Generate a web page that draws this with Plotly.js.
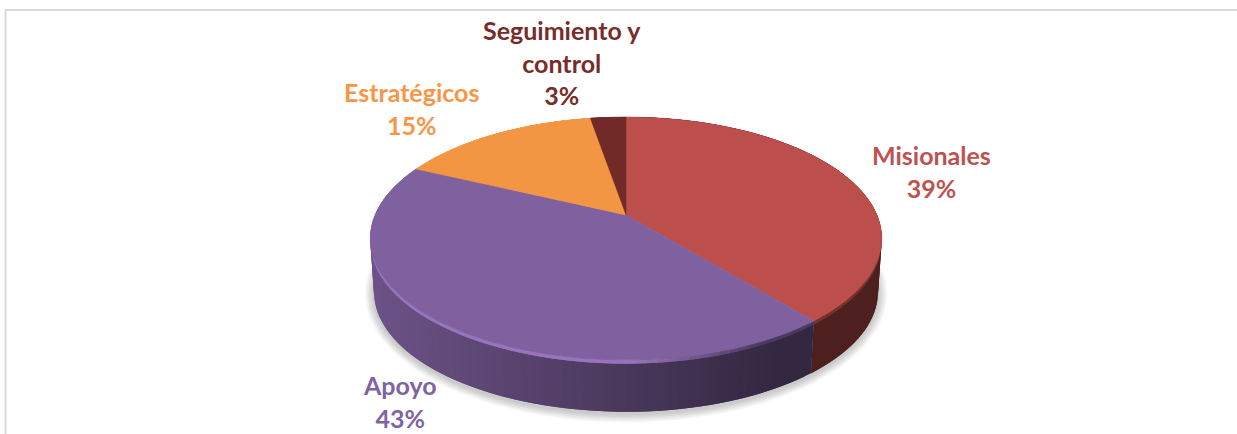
<!DOCTYPE html>
<html>
<head>
<meta charset="utf-8">
<script src="https://cdn.plot.ly/plotly-3.0.1.min.js"></script>
<style>html,body{margin:0;padding:0;background:#fff}#chart{width:1237px;height:434px}</style>
</head>
<body>
<div id="chart"></div>
<script>
var categories = ['Misionales', 'Apoyo', 'Estratégicos', 'Seguimiento y<br>control'];
var shares = [39.0, 43.0, 15.3, 2.7];
var topColors = [[188,79,76],[127,97,159],[243,150,68],[114,42,40]];
var labelColors = ['#BE5250', '#8064A2', '#F79646', '#772C2A'];
var labelX = [931, 400, 411, 562];
var labelY = [171, 401, 108, 62];

var CX = 626, CY = 215, A = 117, B = 251, K = 0.193, DEPTH = 54, LOWER = 0.985;

function proj(theta, scale, dy) {
  var X = Math.sin(theta), Y = Math.cos(theta), d = 1 + K * Y;
  return [CX + scale * B * X / d, CY - scale * A * Y / d + dy];
}
function rgb(c, f) {
  return 'rgb(' + c.map(function (v) { return Math.min(255, Math.round(v * f)); }).join(',') + ')';
}
function wallFactor(t) { return t < 0.78 ? 0.85 - 0.56 * t : 0.41; }
function bevelFactor(t) {
  if (t < 0.5) return 1.2;
  if (t < 0.75) return 1.2 - (t - 0.5) * 2.4;
  return 0.6;
}
var traces = [];
function poly(pts, fill, width) {
  traces.push({
    type: 'scatter', mode: 'lines', x: pts.map(function (p) { return p[0]; }), y: pts.map(function (p) { return p[1]; }),
    fill: 'toself', fillcolor: fill, line: { width: width || 0, color: fill }, hoverinfo: 'skip', showlegend: false
  });
}

// soft shadow below the disc
[9, 7.5, 6, 4.5, 3, 1.5].forEach(function (g) {
  var pts = [];
  for (var a = 0; a <= 360; a += 3) {
    var p = proj(a * Math.PI / 180, LOWER, DEPTH);
    var dx = p[0] - CX, dy = p[1] - 241 - DEPTH;
    pts.push([p[0] + g * dx / 251, p[1] + g * dy / 122 + 2]);
  }
  poly(pts, 'rgba(0,0,0,0.035)');
});

var total = shares.reduce(function (a, b) { return a + b; }, 0);
var start = 0, ranges = shares.map(function (v) {
  var r = [start, start + v / total * 2 * Math.PI]; start = r[1]; return r;
});

// side wall, split in narrow overlapping quads to make the shading
ranges.forEach(function (r, i) {
  var step = 2 * Math.PI / 180, n = Math.max(2, Math.ceil((r[1] - r[0]) / step));
  for (var j = 0; j < n; j++) {
    var a = r[0] + (r[1] - r[0]) * j / n;
    var b = Math.min(r[1], r[0] + (r[1] - r[0]) * (j + 2) / n);
    var pts = [], m = 4, k;
    for (k = 0; k <= m; k++) pts.push(proj(a + (b - a) * k / m, 1, 0));
    for (k = m; k >= 0; k--) pts.push(proj(a + (b - a) * k / m, LOWER, DEPTH));
    pts.push(pts[0]);
    var mid = proj(a + (b - a) / 2, 1, 0);
    var t = (mid[0] - (CX - 257)) / 514;
    poly(pts, rgb(topColors[i], wallFactor(t)));
  }
});
// bevel along the top edge of the wall
ranges.forEach(function (r, i) {
  var step = 2 * Math.PI / 180, n = Math.max(2, Math.ceil((r[1] - r[0]) / step));
  for (var j = 0; j < n; j++) {
    var a = r[0] + (r[1] - r[0]) * j / n;
    var b = Math.min(r[1], r[0] + (r[1] - r[0]) * (j + 2) / n);
    var pts = [], m = 4, k;
    for (k = 0; k <= m; k++) pts.push(proj(a + (b - a) * k / m, 1, 0));
    for (k = m; k >= 0; k--) pts.push(proj(a + (b - a) * k / m, 0.998, 4));
    pts.push(pts[0]);
    var mid = proj(a + (b - a) / 2, 1, 0);
    var t = (mid[0] - (CX - 257)) / 514;
    var f = i === 0 ? 0.62 : bevelFactor(t);
    poly(pts, rgb(topColors[i], f));
  }
});
// top faces
ranges.forEach(function (r, i) {
  var n = Math.max(4, Math.ceil((r[1] - r[0]) / (1 * Math.PI / 180)));
  var pts = [[CX, CY]];
  for (var j = 0; j <= n; j++) pts.push(proj(r[0] + (r[1] - r[0]) * j / n, 1, 0));
  pts.push([CX, CY]);
  poly(pts, rgb(topColors[i], 1), 0.5);
});

var annotations = categories.map(function (c, i) {
  return {
    x: labelX[i], y: labelY[i], xref: 'x', yref: 'y', showarrow: false, align: 'center',
    text: '<b>' + c + '<br>' + Math.round(shares[i] / total * 100) + '%</b>',
    font: { family: 'Lato, Carlito, sans-serif', size: 25, color: labelColors[i] }
  };
});

var layout = {
  width: 1237, height: 434, margin: { l: 0, r: 0, t: 0, b: 0 },
  paper_bgcolor: '#fff', plot_bgcolor: '#fff', showlegend: false,
  xaxis: { range: [0, 1237], visible: false, fixedrange: true },
  yaxis: { range: [434, 0], visible: false, fixedrange: true },
  annotations: annotations,
  shapes: [
    { type: 'line', xref: 'x', yref: 'y', x0: 5.5, x1: 5.5, y0: 9, y1: 434, line: { color: '#D9D9D9', width: 2 } },
    { type: 'line', xref: 'x', yref: 'y', x0: 5, x1: 1237, y0: 10, y1: 10, line: { color: '#D9D9D9', width: 2 } }
  ]
};
Plotly.newPlot('chart', traces, layout, { displayModeBar: false, staticPlot: true });
</script>
</body>
</html>
